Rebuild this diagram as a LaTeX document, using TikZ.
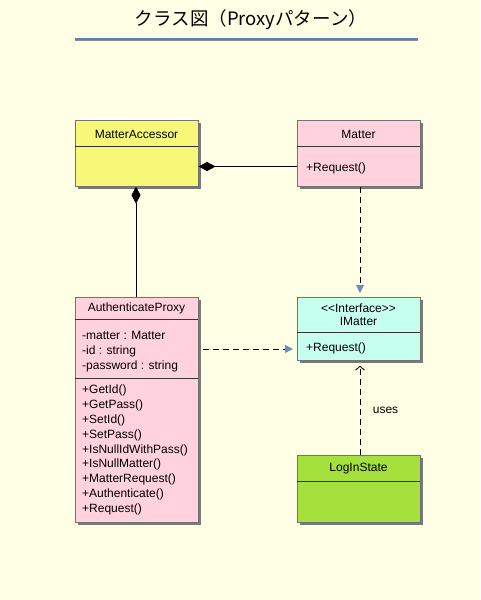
\documentclass[tikz,border=0pt]{standalone}
\usepackage{fontspec}
\setmainfont{Liberation Sans}
\newfontfamily\jpfont{Noto Sans CJK JP}
\usetikzlibrary{arrows.meta,shadows}
\definecolor{bgc}{HTML}{FFFFE6}
\definecolor{yel}{HTML}{F8F878}
\definecolor{pnk}{HTML}{FFD2DE}
\definecolor{cyn}{HTML}{C6FFEE}
\definecolor{grn}{HTML}{A6E03C}
\definecolor{tipblue}{HTML}{6A8CC8}
\definecolor{titleline}{HTML}{5A80B8}
\tikzset{
  classbox/.style={draw=black!55, line width=0.6pt, anchor=north west, inner sep=0pt,
    drop shadow={shadow xshift=2.5pt, shadow yshift=-2.5pt, fill=black!65, opacity=0.8}},
  sep/.style={line width=0.8pt, draw=black!80},
  ctext/.style={font=\fontsize{12}{13}\selectfont, inner sep=0pt, anchor=center},
  ltext/.style={font=\fontsize{12}{14.9}\selectfont, inner sep=0pt, anchor=north west, align=left},
  comp/.style={line width=0.9pt, {Diamond[length=17pt,width=9pt]}-},
  realize/.style={line width=0.9pt, dash pattern=on 6pt off 4pt, shorten >=4pt, -{Triangle[length=8pt,width=8pt,fill=tipblue,color=tipblue]}},
  usesarr/.style={line width=0.9pt, dash pattern=on 6pt off 4pt, shorten >=5pt, -{Straight Barb[length=4pt,width=9pt]}},
}
\begin{document}
\begin{tikzpicture}[x=1pt,y=-1pt]
\fill[bgc] (0,0) rectangle (480,600);
\useasboundingbox (0,0) rectangle (480,600);
% title
\node[font=\jpfont\fontsize{18.5}{20}\selectfont, inner sep=0pt] (title) at (251,20) {クラス図（Proxyパターン）};
\coordinate (tl1) at (75,38.5);
\coordinate (tl2) at (418,38.5);
\draw[black!45, line width=2pt] ([yshift=-1pt]tl1) -- ([yshift=-1pt]tl2);
\draw[titleline, line width=2pt] (tl1) -- (tl2);
% MatterAccessor
\node[classbox, fill=yel, minimum width=123pt, minimum height=66pt] (ma) at (75,120) {};
\draw[sep] (75,146) -- (198,146);
\node[ctext] (mat) at (136.5,134) {MatterAccessor};
% Matter
\node[classbox, fill=pnk, minimum width=123pt, minimum height=66pt] (m) at (297,120) {};
\draw[sep] (297,146) -- (420,146);
\node[ctext] (mt) at (358.5,134) {Matter};
\node[ltext] (mops) at (306,162.5) {+Request()};
% AuthenticateProxy
\node[classbox, fill=pnk, minimum width=123pt, minimum height=225pt] (ap) at (75,297) {};
\draw[sep] (75,319.5) -- (198,319.5);
\draw[sep] (75,378.5) -- (198,378.5);
\node[ctext] (apt) at (136.5,308.5) {AuthenticateProxy};
\node[ltext] (apattr) at (82,331.5) {-matter : Matter\\-id : string\\-password : string};
\node[ltext] (apops) at (82,384.5) {+GetId()\\+GetPass()\\+SetId()\\+SetPass()\\+IsNullIdWithPass()\\+IsNullMatter()\\+MatterRequest()\\+Authenticate()\\+Request()};
% IMatter
\node[classbox, fill=cyn, minimum width=123pt, minimum height=63pt] (im) at (297,297) {};
\draw[sep] (297,332) -- (420,332);
\node[ctext, align=center, font=\fontsize{12}{12.5}\selectfont] (imt) at (358.5,314.5) {<{}<Interface>{}>\\IMatter};
\node[ltext] (imops) at (306,342.5) {+Request()};
% LogInState
\node[classbox, fill=grn, minimum width=123pt, minimum height=67pt] (ls) at (297,455) {};
\draw[sep] (297,481) -- (420,481);
\node[ctext] (lst) at (358.5,469) {LogInState};
% connectors
\draw[comp] (ma.east |- 0,166.5) -- (m.west |- 0,166.5);
\draw[comp] (ma.south -| 136,0) -- (ap.north -| 136,0);
\draw[realize] (m.south -| 360,0) -- (im.north -| 360,0);
\draw[realize] ([xshift=4pt]ap.east |- 0,349) -- (im.west |- 0,349);
\draw[usesarr] (ls.north -| 360,0) -- (im.south -| 360,0);
\node[font=\fontsize{12}{13}\selectfont, inner sep=0pt] (uses) at (385.5,410) {uses};
\end{tikzpicture}
\end{document}
